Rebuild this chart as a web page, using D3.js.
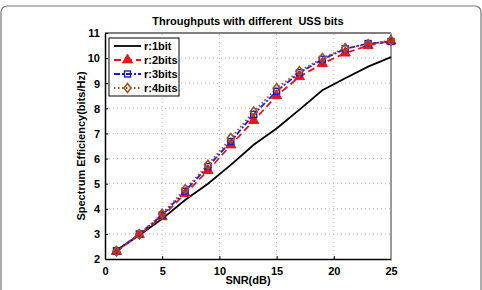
<!DOCTYPE html>
<html><head><meta charset="utf-8">
<script src="https://cdn.jsdelivr.net/npm/d3@7"></script>
<style>body{margin:0;background:#fff}svg{display:block}text{font-family:"Liberation Sans",Arial,sans-serif;font-weight:bold;white-space:pre}</style>
</head><body>
<script>
const snr = [1,3,5,7,9,11,13,15,17,19,21,23,25];
const bits1 = [2.35,2.95,3.6,4.35,5.0,5.75,6.55,7.2,7.95,8.72,9.2,9.66,10.04];
const bits2 = [2.3,2.97,3.68,4.6,5.52,6.54,7.51,8.5,9.26,9.78,10.2,10.5,10.68];
const bits3 = [2.33,3.0,3.75,4.7,5.68,6.68,7.76,8.68,9.42,9.95,10.37,10.58,10.66];
const bits4 = [2.3,2.98,3.8,4.78,5.75,6.82,7.87,8.8,9.48,10.0,10.4,10.55,10.7];
const xTicks = [0,5,10,15,20,25];
const yTicks = [2,3,4,5,6,7,8,9,10,11];
const labels = ["r:1bit","r:2bits","r:3bits","r:4bits"];

const W=482,H=290;
const svg=d3.select("body").append("svg").attr("width",W).attr("height",H);
svg.append("rect").attr("x",1).attr("y",6).attr("width",480).attr("height",300).attr("rx",6)
  .attr("fill","#fff").attr("stroke","#777").attr("stroke-width",1.2);

const x=d3.scaleLinear().domain([0,25]).range([105,391]);
const y=d3.scaleLinear().domain([2,11]).range([259,33]);

// grid
const g=svg.append("g");
g.selectAll(".gx").data(xTicks.slice(1,-1)).join("line").attr("x1",d=>x(d)).attr("x2",d=>x(d))
  .attr("y1",y(2)).attr("y2",y(11)).attr("stroke","#bbb").attr("stroke-width",1).attr("stroke-dasharray","1,3");
g.selectAll(".gy").data(yTicks.slice(1,-1)).join("line").attr("y1",d=>y(d)).attr("y2",d=>y(d))
  .attr("x1",x(0)).attr("x2",x(25)).attr("stroke","#bbb").attr("stroke-width",1).attr("stroke-dasharray","1,3");

// axes
const ax=svg.append("g").attr("transform",`translate(0,${y(2)})`)
  .call(d3.axisBottom(x).tickValues(xTicks).tickSizeInner(-3).tickSizeOuter(0).tickPadding(6));
const ay=svg.append("g").attr("transform",`translate(${x(0)},0)`)
  .call(d3.axisLeft(y).tickValues(yTicks).tickSizeInner(-3).tickSizeOuter(0).tickPadding(5));
[ax,ay].forEach(a=>{a.selectAll("text").attr("font-size",11).attr("fill","#000").attr("font-weight","bold");
  a.select(".domain").attr("stroke","#000").attr("stroke-width",1.5);});
ax.selectAll("text").attr("dy","0.9em");
ay.selectAll("text").attr("dy","0.35em");
svg.append("line").attr("x1",x(0)).attr("x2",x(25)).attr("y1",y(11)).attr("y2",y(11)).attr("stroke","#000").attr("stroke-width",1.2);
svg.append("line").attr("x1",x(25)).attr("x2",x(25)).attr("y1",y(11)).attr("y2",y(2)).attr("stroke","#999").attr("stroke-width",2);

// titles
svg.append("text").attr("x",248).attr("y",25).attr("text-anchor","middle").attr("font-size",11).text("Throughputs with different  USS bits");
svg.append("text").attr("x",248).attr("y",284).attr("text-anchor","middle").attr("font-size",11).text("SNR(dB)");
svg.append("text").attr("transform",`translate(85,${(y(2)+y(11))/2}) rotate(-90)`).attr("text-anchor","middle").attr("font-size",11).text("Spectrum Efficiency(bits/Hz)");

// series
const series=[
  {v:bits1,color:"#000",dash:null,marker:null},
  {v:bits2,color:"#e8141b",dash:"7,4",marker:"tri"},
  {v:bits3,color:"#1a1adb",dash:"6,2,2,2",marker:"sq"},
  {v:bits4,color:"#a0521e",dash:"1.5,2.5",marker:"dia"}
];
const line=d3.line().x((d,i)=>x(snr[i])).y(d=>y(d));
function drawMarker(sel,type,cx,cy,color){
  if(type==="tri"){
    sel.append("path").attr("d",d3.symbol(d3.symbolTriangle,44)()).attr("transform",`translate(${cx},${cy})`)
      .attr("fill",color).attr("stroke",color).attr("stroke-width",1);
  } else if(type==="sq"){
    sel.append("rect").attr("x",cx-3).attr("y",cy-3).attr("width",6).attr("height",6).attr("fill","none").attr("stroke",color).attr("stroke-width",1.4);
  } else if(type==="dia"){
    sel.append("path").attr("d",`M${cx},${cy-4.5}L${cx+3.5},${cy}L${cx},${cy+4.5}L${cx-3.5},${cy}Z`).attr("fill","none").attr("stroke",color).attr("stroke-width",1.6);
  }
}
series.forEach(s=>{
  const p=svg.append("path").datum(s.v).attr("d",line).attr("fill","none").attr("stroke",s.color).attr("stroke-width",1.8);
  if(s.dash)p.attr("stroke-dasharray",s.dash);
});
series.forEach(s=>{
  if(!s.marker)return;
  const mg=svg.append("g");
  s.v.forEach((d,i)=>drawMarker(mg,s.marker,x(snr[i]),y(d),s.color));
});

// legend
const lg=svg.append("g");
lg.append("rect").attr("x",109).attr("y",38).attr("width",70).attr("height",58).attr("fill","#fff").attr("stroke","#000").attr("stroke-width",1);
const ly=[46,60,74,88];
series.forEach((s,i)=>{
  const l=lg.append("line").attr("x1",114).attr("x2",141).attr("y1",ly[i]).attr("y2",ly[i]).attr("stroke",s.color).attr("stroke-width",1.8);
  if(s.dash)l.attr("stroke-dasharray",s.dash);
  if(s.marker)drawMarker(lg,s.marker,127.5,ly[i],s.color);
  lg.append("text").attr("x",144).attr("y",ly[i]).attr("dy","0.35em").attr("font-size",11).text(labels[i]);
});
</script>
</body></html>
